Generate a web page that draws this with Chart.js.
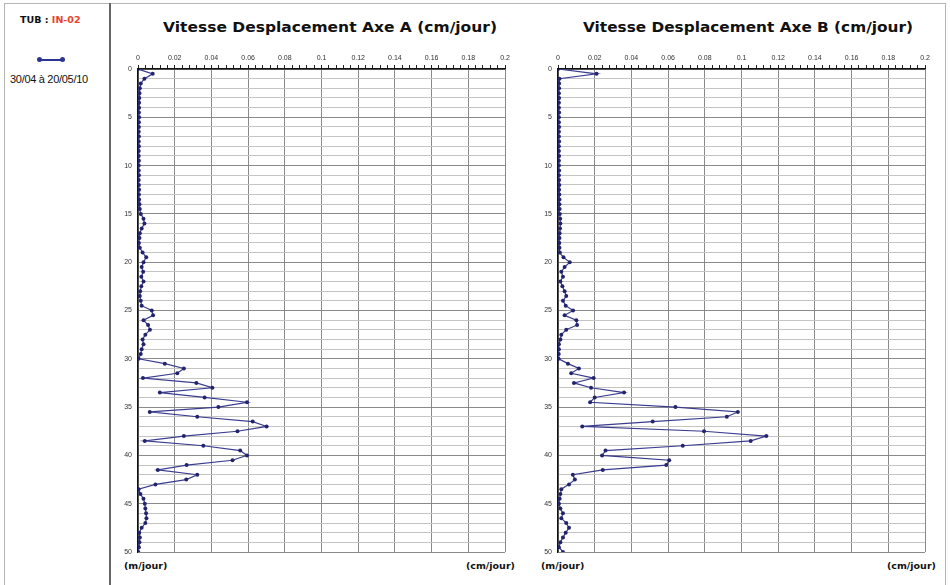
<!DOCTYPE html>
<html>
<head>
<meta charset="utf-8">
<script src="https://cdn.jsdelivr.net/npm/chart.js@4.4.1/dist/chart.umd.min.js"></script>
<style>
  body { margin: 0; background: #fff; font-family: "Liberation Sans", Arial, sans-serif; }
  #page { position: relative; width: 950px; height: 585px; overflow: hidden; }
  #frame { position: absolute; left: 4px; top: 3px; width: 940px; height: 590px; border: 1px solid #b5b5b5; }
  #sep { position: absolute; left: 109px; top: 3px; width: 2px; height: 590px; background: #666; }
  .tit { position: absolute; top: 19px; font-family: "DejaVu Sans", sans-serif; font-weight: bold; font-size: 14px; color: #111; white-space: nowrap; transform-origin: 0 0; }
  .unit { position: absolute; top: 560px; font-family: "DejaVu Sans", sans-serif; font-weight: bold; font-size: 9.5px; color: #111; white-space: nowrap; }
  canvas { position: absolute; top: 0; }
</style>
</head>
<body>
<div id="page">
  <div id="frame"></div>
  <div id="sep"></div>

  <div style="position:absolute;left:20px;top:14px;font-family:'DejaVu Sans',sans-serif;font-weight:bold;font-size:9.5px;color:#111">TUB : <span style="color:#e8432c">IN-02</span></div>
  <div style="position:absolute;left:39px;top:59px;width:24px;height:2px;background:#2b3590"></div>
  <div style="position:absolute;left:37px;top:57px;width:5px;height:5px;border-radius:3px;background:#2b3590"></div>
  <div style="position:absolute;left:60px;top:57px;width:5px;height:5px;border-radius:3px;background:#2b3590"></div>
  <div style="position:absolute;left:10px;top:73px;font-size:11px;letter-spacing:-0.3px;color:#111">30/04 à 20/05/10</div>

  <div class="tit" data-w="334" style="left:163px">Vitesse Desplacement Axe A (cm/jour)</div>
  <div class="tit" data-w="330" style="left:583px">Vitesse Desplacement Axe B (cm/jour)</div>
  <div class="unit" style="left:124px">(m/jour)</div>
  <div class="unit" style="left:466px">(cm/jour)</div>
  <div class="unit" style="left:541px">(m/jour)</div>
  <div class="unit" style="left:887px">(cm/jour)</div>

  <canvas id="chartA" width="413" height="585" style="left:112px"></canvas>
  <canvas id="chartB" width="413" height="585" style="left:532px"></canvas>
</div>

<script>
// profondeur (m)
const depths = [
  0, 0.5, 1, 1.5, 2, 2.5, 3, 3.5, 4, 4.5, 5, 5.5, 6, 6.5, 7, 7.5, 8, 8.5, 9, 9.5,
  10, 10.5, 11, 11.5, 12, 12.5, 13, 13.5, 14, 14.5, 15, 15.5, 16, 16.5, 17, 17.5, 18, 18.5, 19, 19.5,
  20, 20.5, 21, 21.5, 22, 22.5, 23, 23.5, 24, 24.5, 25, 25.5, 26, 26.5, 27, 27.5, 28, 28.5, 29, 29.5,
  30, 30.5, 31, 31.5, 32, 32.5, 33, 33.5, 34, 34.5, 35, 35.5, 36, 36.5, 37, 37.5, 38, 38.5, 39, 39.5,
  40, 40.5, 41, 41.5, 42, 42.5, 43, 43.5, 44, 44.5, 45, 45.5, 46, 46.5, 47, 47.5, 48, 48.5, 49, 49.5, 50
];

// vitesse axe A (cm/jour)
const vitesseA = [
  0, 0.008, 0.0035, 0.0015, 0.001, 0.0008, 0.0007, 0.0006, 0.0006, 0.0005, 0.0006, 0.0005, 0.0005, 0.0004, 0.0005, 0.0004, 0.0005, 0.0004, 0.0004, 0.0005,
  0.0004, 0.0004, 0.0005, 0.0004, 0.0005, 0.0006, 0.0005, 0.0006, 0.0008, 0.001, 0.0015, 0.003, 0.0035, 0.002, 0.001, 0.0008, 0.0005, 0.001, 0.0025, 0.0045,
  0.003, 0.002, 0.0028, 0.0018, 0.003, 0.0018, 0.0012, 0.001, 0.0015, 0.002, 0.0075, 0.0082, 0.003, 0.0055, 0.0065, 0.004, 0.0025, 0.003, 0.002, 0.0015,
  0.0003, 0.0146, 0.025, 0.0214, 0.0027, 0.0318, 0.0405, 0.0119, 0.0363, 0.0594, 0.0438, 0.0064, 0.0323, 0.0625, 0.0701, 0.0542, 0.025, 0.0037, 0.0356, 0.0557,
  0.0594, 0.0515, 0.0265, 0.0108, 0.0323, 0.0263, 0.0095, 0.0003, 0.0013, 0.003, 0.0037, 0.004, 0.0044, 0.0046, 0.004, 0.002, 0.0007, 0.001, 0.0008, 0.0005, 0.0002
];

// vitesse axe B (cm/jour)
const vitesseB = [
  0, 0.021, 0.0008, 0.0006, 0.0006, 0.0005, 0.0006, 0.0005, 0.0005, 0.0006, 0.0005, 0.0005, 0.0006, 0.0005, 0.0005, 0.0006, 0.0005, 0.0005, 0.0006, 0.0005,
  0.0005, 0.0006, 0.0005, 0.0006, 0.0007, 0.0006, 0.0007, 0.0008, 0.0008, 0.0009, 0.001, 0.0012, 0.0013, 0.0011, 0.0009, 0.0008, 0.0007, 0.0008, 0.001, 0.003,
  0.0064, 0.0036, 0.0018, 0.0027, 0.0013, 0.0024, 0.0036, 0.0045, 0.0027, 0.0042, 0.0082, 0.0036, 0.01, 0.0104, 0.0045, 0.0018, 0.0013, 0.0005, 0.0005, 0.0004,
  0.0003, 0.0054, 0.0114, 0.0072, 0.0194, 0.0087, 0.018, 0.036, 0.02, 0.0175, 0.064, 0.098, 0.092, 0.0516, 0.0132, 0.0796, 0.1135, 0.105, 0.068, 0.0259,
  0.024, 0.0606, 0.059, 0.0244, 0.0081, 0.0092, 0.006, 0.0018, 0.0013, 0.0009, 0.0005, 0.0013, 0.0027, 0.0018, 0.0045, 0.006, 0.0042, 0.0027, 0.0013, 0.0005, 0.0027
];

const xTicks = ["0", "0.02", "0.04", "0.06", "0.08", "0.1", "0.12", "0.14", "0.16", "0.18", "0.2"];

// ajuster la largeur des titres
document.querySelectorAll(".tit").forEach((el) => {
  const w = el.getBoundingClientRect().width;
  el.style.transform = "scaleX(" + (Number(el.dataset.w) / w) + ")";
});

function isMajorX(v) {
  return Math.abs(v * 50 - Math.round(v * 50)) < 1e-6;
}

function buildConfig(valeurs) {
  const points = depths.map((d, i) => ({ x: valeurs[i], y: d }));
  return {
    type: "scatter",
    data: {
      datasets: [{
        data: points,
        showLine: true,
        borderColor: "#3a3d8f",
        borderWidth: 1.2,
        pointRadius: 2,
        pointBackgroundColor: "#23246e",
        pointBorderColor: "#23246e",
        pointBorderWidth: 0
      }]
    },
    options: {
      responsive: false,
      animation: false,
      devicePixelRatio: 1,
      layout: { padding: { top: 47, right: 20, bottom: 33, left: 0 } },
      plugins: { legend: { display: false }, tooltip: { enabled: false } },
      scales: {
        x: {
          type: "linear",
          position: "top",
          min: 0,
          max: 0.2,
          afterFit: (s) => { s.height = 22; },
          ticks: {
            stepSize: 0.004,
            autoSkip: false,
            maxRotation: 0,
            padding: 3,
            color: "#333",
            font: { size: 7, family: "Liberation Sans" },
            callback: (v) => isMajorX(v) ? xTicks[Math.round(v * 50)] : ""
          },
          grid: {
            color: (ctx) => isMajorX(ctx.tick.value) ? "#8a8a8a" : "rgba(0,0,0,0)",
            tickColor: "#222",
            tickLength: 4
          },
          border: { color: "#111", width: 1.5 }
        },
        y: {
          type: "linear",
          reverse: true,
          min: 0,
          max: 50,
          afterFit: (s) => { s.width = 26; },
          ticks: {
            stepSize: 1,
            autoSkip: false,
            padding: 4,
            color: "#333",
            font: { size: 7, family: "Liberation Sans" },
            callback: (v) => v % 5 === 0 ? String(v) : ""
          },
          grid: {
            color: (ctx) => ctx.tick.value % 5 === 0 ? "#8a8a8a" : "#c4c4c4",
            tickColor: "rgba(0,0,0,0)",
            tickLength: 2
          },
          border: { color: "#111", width: 1.5 }
        }
      }
    }
  };
}

new Chart(document.getElementById("chartA"), buildConfig(vitesseA));
new Chart(document.getElementById("chartB"), buildConfig(vitesseB));
</script>
</body>
</html>
